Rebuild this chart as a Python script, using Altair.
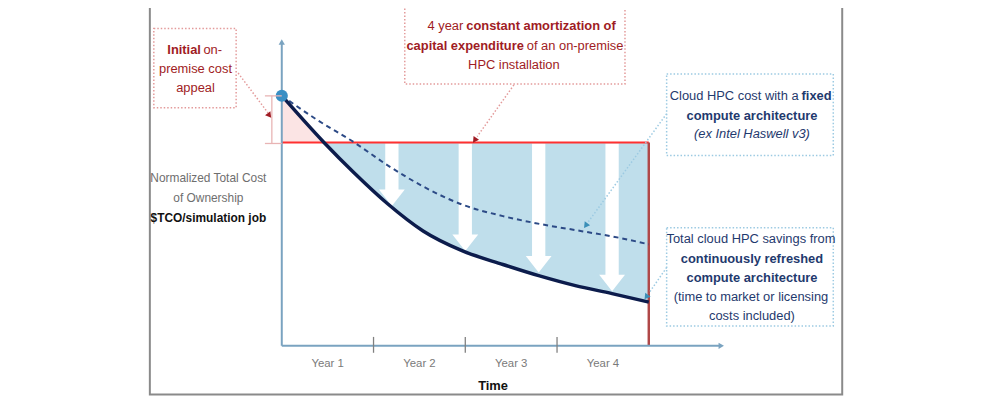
import altair as alt
import pandas as pd

# ---------------- data ----------------
solid_years = [0.0, 0.46, 0.79, 1.15, 1.54, 1.97, 2.41, 2.80, 3.20, 3.60, 4.00]
solid_cost = [1.23, 1.00, 0.85, 0.70, 0.565, 0.467, 0.40, 0.345, 0.296, 0.257, 0.215]

dashed_years = [0.0, 0.39, 0.79, 1.15, 1.54, 1.97, 2.41, 2.84, 3.27, 3.67, 4.00]
dashed_cost = [1.23, 1.11, 1.00, 0.889, 0.784, 0.694, 0.638, 0.597, 0.564, 0.532, 0.499]

capex_level = 1.0
capex_years = [0.0, 4.0]
start_cost = 1.23

arrow_years = [1.2, 2.0, 2.8, 3.6]
arrow_tips = [0.688, 0.467, 0.361, 0.268]

tick_years = [1, 2, 3]
year_labels = ["Year 1", "Year 2", "Year 3", "Year 4"]

# ---------------- layout ----------------
W, H = 992, 390
PX_YEAR = 92.5
PX_UNIT = 205.0
OX, OY = 284 - 8, 347 - 8  # plot-pixel position of (0, 0)

xs = alt.Scale(domain=[-OX / PX_YEAR, (W - OX) / PX_YEAR], nice=False, zero=False)
ys = alt.Scale(domain=[-(H - OY) / PX_UNIT, OY / PX_UNIT], nice=False, zero=False)

FONT = "Liberation Sans Narrow, Arial Narrow, Liberation Sans, Arial, sans-serif"
FS = 13
RED_T = "#a01c24"
NAVY_T = "#1f3a6e"
GRAY_T = "#6e6e6e"
AXIS_C = "#7aa3c0"
one = pd.DataFrame({"d": [0]})


def X(field, **kw):
    return alt.X(field, type="quantitative", scale=xs, axis=None, **kw)


def Y(field, **kw):
    return alt.Y(field, type="quantitative", scale=ys, axis=None, **kw)


def txt(s, px, py, color, weight="normal", style="normal", align="center", size=FS):
    return alt.Chart(one).mark_text(
        text=s, font=FONT, fontSize=size, fontWeight=weight, fontStyle=style,
        align=align, baseline="middle", color=color,
    ).encode(x=alt.value(px - 8), y=alt.value(py - 8))


def seg(x1, y1, x2, y2, color, width=1.5, dash=None):
    kw = dict(color=color, strokeWidth=width)
    if dash:
        kw["strokeDash"] = dash
    return alt.Chart(one).mark_rule(**kw).encode(
        x=alt.value(x1 - 8), y=alt.value(y1 - 8), x2=alt.value(x2 - 8), y2=alt.value(y2 - 8))


def box(x1, y1, x2, y2, color, dash=(1.5, 2), width=1.5):
    return alt.Chart(one).mark_rect(
        filled=False, stroke=color, strokeWidth=width, strokeDash=list(dash)
    ).encode(x=alt.value(x1 - 8), y=alt.value(y1 - 8), x2=alt.value(x2 - 8), y2=alt.value(y2 - 8))


def head(px, py, angle, color, size=70):
    return alt.Chart(one).mark_point(
        shape="triangle", filled=True, color=color, opacity=1, angle=angle, size=size
    ).encode(x=alt.value(px - 8), y=alt.value(py - 8))


solid = pd.DataFrame({"year": solid_years, "cost": solid_cost})
solid["base"] = capex_level
dashed = pd.DataFrame({"year": dashed_years, "cost": dashed_cost})

blue_part = solid[solid["year"] >= 0.46]
pink_part = solid[solid["year"] <= 0.46]

blue_area = alt.Chart(blue_part).mark_area(
    color="#bfdeeb", opacity=1, interpolate="monotone"
).encode(x=X("year"), y=Y("cost"), y2="base")
pink_area = alt.Chart(pink_part).mark_area(
    color="#fbe4e4", opacity=1
).encode(x=X("year"), y=Y("cost"), y2="base")

arr = pd.DataFrame({"year": arrow_years, "tip": arrow_tips})
arr["x1"] = arr["year"] - 6.7 / PX_YEAR
arr["x2"] = arr["year"] + 6.7 / PX_YEAR
arr["top"] = capex_level - 1 / PX_UNIT
arr["bottom"] = arr["tip"] + 16 / PX_UNIT
arr["hc"] = arr["tip"] + 8.3 / PX_UNIT
shafts = alt.Chart(arr).mark_rect(color="white").encode(
    x=X("x1"), x2="x2", y=Y("top"), y2="bottom")
heads = alt.Chart(arr).mark_point(
    shape="M-1,-0.64L1,-0.64L0,0.64Z", filled=True, color="white", opacity=1, size=676
).encode(x=X("year"), y=Y("hc"))

capex = pd.DataFrame({"year": capex_years, "cost": [capex_level, capex_level]})
capex_line = alt.Chart(capex).mark_line(color="#ff3030", strokeWidth=2).encode(
    x=X("year"), y=Y("cost"))
end_rule = alt.Chart(pd.DataFrame({"year": [capex_years[1]], "c0": [0.0], "c1": [capex_level]})).mark_rule(
    color="#b04848", strokeWidth=2.5).encode(x=X("year"), y=Y("c0"), y2="c1")

# axes
axes_df = pd.DataFrame({"x0": [0.0], "y0": [0.0], "xe": [4.78], "ye": [1.49]})
y_axis = alt.Chart(axes_df).mark_rule(color=AXIS_C, strokeWidth=2).encode(
    x=X("x0"), y=Y("y0"), y2="ye")
x_axis = alt.Chart(axes_df).mark_rule(color=AXIS_C, strokeWidth=2).encode(
    x=X("x0"), x2="xe", y=Y("y0"))
y_arrow = alt.Chart(axes_df).mark_point(shape="triangle", filled=True, color=AXIS_C, opacity=1,
                                        size=40, angle=0).encode(x=X("x0"), y=Y("ye"))
x_arrow = alt.Chart(axes_df).mark_point(shape="triangle", filled=True, color=AXIS_C, opacity=1,
                                        size=40, angle=90).encode(x=X("xe"), y=Y("y0"))
ticks = pd.DataFrame({"year": tick_years})
ticks["t0"] = 9 / PX_UNIT
ticks["t1"] = -7 / PX_UNIT
tick_rules = alt.Chart(ticks).mark_rule(color="#808080", strokeWidth=1.3).encode(
    x=X("year"), y=Y("t0"), y2="t1")
labels = pd.DataFrame({"label": year_labels})
labels["year"] = [i + 0.5 for i in range(len(year_labels))]
labels["y"] = -18 / PX_UNIT
year_text = alt.Chart(labels).mark_text(font=FONT, fontSize=11.5, color="#7a7a7a").encode(
    x=X("year"), y=Y("y"), text="label")

dashed_line = alt.Chart(dashed).mark_line(
    color="#2c4a86", strokeWidth=2, strokeDash=[5, 4], interpolate="monotone"
).encode(x=X("year"), y=Y("cost"))
solid_line = alt.Chart(solid).mark_line(
    color="#0c1c4c", strokeWidth=3.5, interpolate="monotone"
).encode(x=X("year"), y=Y("cost"))
dot = alt.Chart(pd.DataFrame({"year": [0.0], "cost": [start_cost]})).mark_point(
    filled=True, color="#3a8fc4", opacity=1, size=150).encode(x=X("year"), y=Y("cost"))

# bracket for initial cost appeal
BR = "#e8b4b4"
bracket = [seg(274, 95, 274, 143, BR, 1.3), seg(267, 95, 284, 95, BR, 1.3), seg(267, 143, 284, 143, BR, 1.3)]

PINK_B = "#e39a9a"
BLUE_B = "#9ccae2"
annotations = [
    # outer frame
    alt.Chart(one).mark_rect(filled=False, stroke="#8a8a8a", strokeWidth=2).encode(
        x=alt.value(151 - 8), y=alt.value(1 - 8), x2=alt.value(849 - 8), y2=alt.value(396 - 8)),
    box(155, 27, 238, 107, PINK_B),
    box(408, 3, 630, 83, PINK_B),
    box(672, 73, 840, 155, BLUE_B),
    box(672, 228, 840, 327, BLUE_B),
    seg(240, 72, 270, 112, PINK_B, 1.5, [1.5, 2]),
    head(271, 114, 143, "#a01c24", 45),
    seg(518, 84, 481, 136, PINK_B, 1.5, [1.5, 2]),
    head(479, 139, 215, "#a01c24", 45),
    seg(672, 113, 593, 222, BLUE_B, 1.5, [1.5, 2]),
    head(591, 225, 216, "#3a8fb7", 45),
    seg(672, 268, 654, 294, BLUE_B, 1.5, [1.5, 2]),
    head(652, 297, 216, "#3a8fb7", 45),
    # box 1
    txt("Initial", 202.5, 49, RED_T, "bold", align="right"),
    txt("on-", 205, 49, RED_T, align="left"),
    txt("premise cost", 197, 68, RED_T),
    txt("appeal", 197, 87, RED_T),
    # box 2
    txt("4 year", 467, 25, RED_T, align="right"),
    txt("constant amortization of", 470, 25, RED_T, "bold", align="left"),
    txt("capital expenditure", 528, 45, RED_T, "bold", align="right"),
    txt("of an on-premise", 531, 45, RED_T, align="left"),
    txt("HPC installation", 518, 64, RED_T),
    # box 3
    txt("Cloud HPC cost with a", 805, 95, NAVY_T, align="right"),
    txt("fixed", 808, 95, NAVY_T, "bold", align="left"),
    txt("compute architecture", 758, 115, NAVY_T, "bold"),
    txt("(ex Intel Haswell v3)", 758, 133, NAVY_T, style="italic"),
    # box 4
    txt("Total cloud HPC savings from", 757, 239, NAVY_T),
    txt("continuously refreshed", 758, 259, NAVY_T, "bold"),
    txt("compute architecture", 758, 279, NAVY_T, "bold"),
    txt("(time to market or licensing", 757, 298, NAVY_T),
    txt("costs included)", 758, 317, NAVY_T),
    # y title
    txt("Normalized Total Cost", 210, 178, GRAY_T, size=12),
    txt("of Ownership", 210, 198, GRAY_T, size=12),
    txt("$TCO/simulation job", 210, 218, "#111111", "bold", size=12),
    # x title
    txt("Time", 497, 388, "#111111", "bold", size=13),
]

chart = alt.layer(
    blue_area, pink_area, shafts, heads, capex_line, end_rule,
    y_axis, x_axis, y_arrow, x_arrow, tick_rules, year_text,
    dashed_line, solid_line, dot, *bracket, *annotations,
).properties(
    width=W, height=H, padding=0, autosize=alt.AutoSizeParams(type="none"),
    background="white",
).configure_view(stroke=None)

chart.save("out.html", embed_options={"renderer": "svg", "actions": False})
